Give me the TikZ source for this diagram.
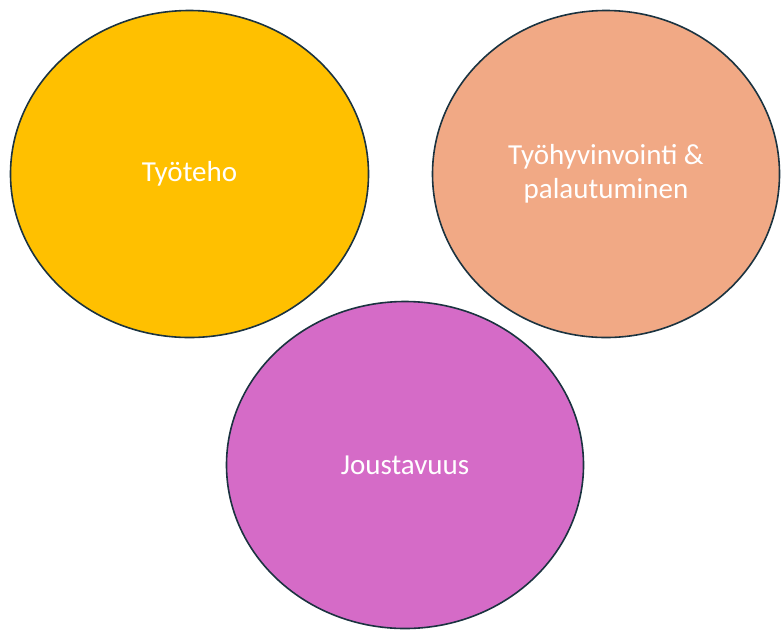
\documentclass[tikz,border=0pt]{standalone}
\usepackage{fontspec}
\setmainfont{Carlito}
\usetikzlibrary{shapes.geometric}
\definecolor{edge}{HTML}{1B3340}
\definecolor{cyellow}{HTML}{FFC000}
\definecolor{csalmon}{HTML}{F1A985}
\definecolor{cmagenta}{HTML}{D56BC7}
\tikzset{
  blob/.style={ellipse, draw=edge, line width=1.6pt, inner sep=0pt, text=white,
    font=\fontsize{29}{34}\selectfont, align=center}
}
\begin{document}
\begin{tikzpicture}[x=1pt,y=-1pt]
\useasboundingbox (0,0) rectangle (781,630);
\node[blob, fill=cyellow, minimum width=358pt, minimum height=327pt] (a) at (189.5,174) {Työteho};
\node[blob, fill=csalmon, minimum width=347pt, minimum height=327pt] (b) at (606,174) {Työhyvinvointi \&\\palautuminen};
\node[blob, fill=cmagenta, minimum width=357pt, minimum height=327pt] (c) at (405,465) {Joustavuus};
\end{tikzpicture}
\end{document}
